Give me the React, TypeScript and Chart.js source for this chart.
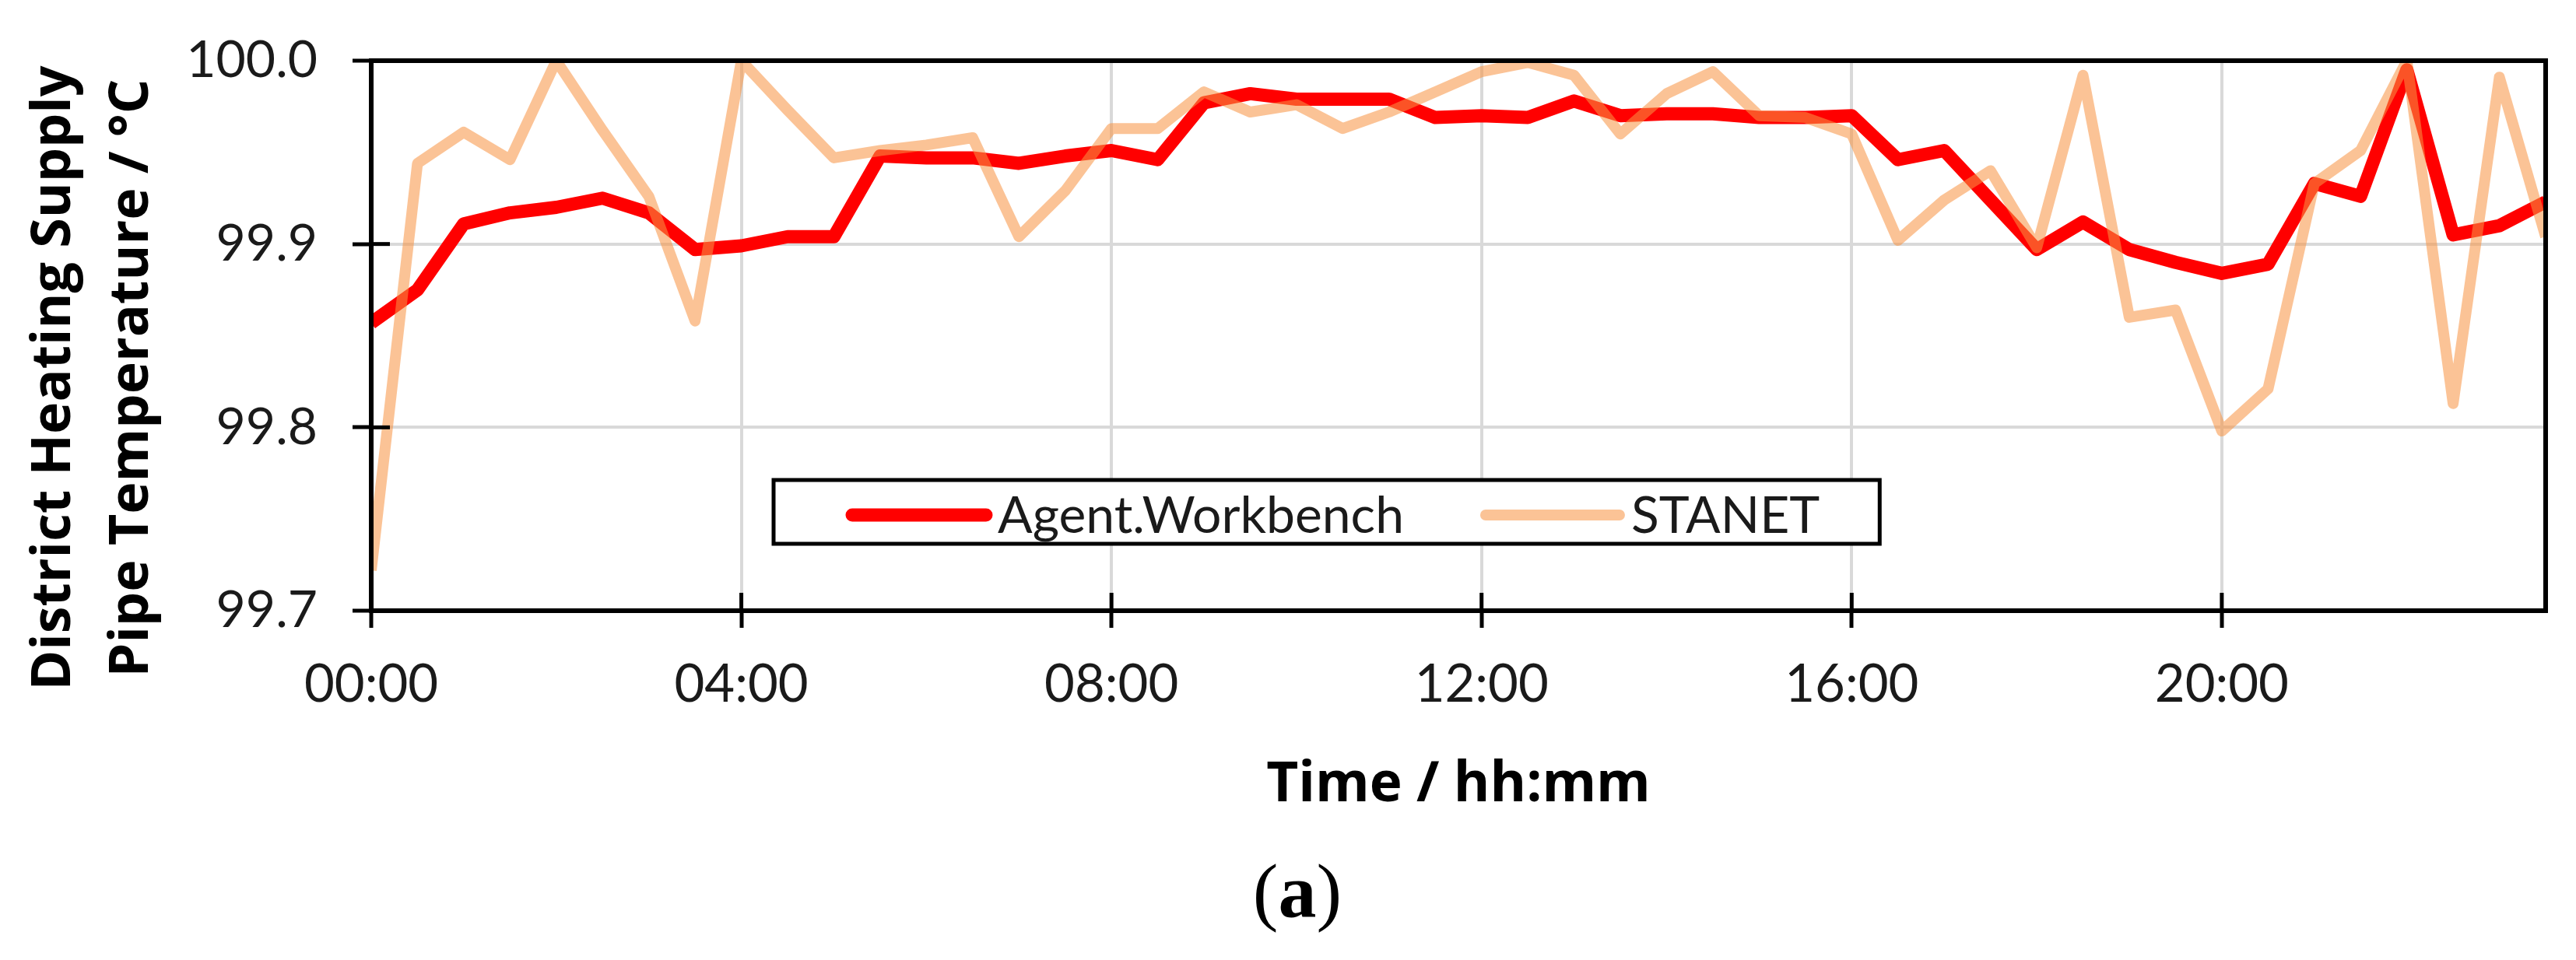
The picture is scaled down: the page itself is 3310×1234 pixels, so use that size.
import React, { useEffect, useRef } from "react";
import { Chart, registerables } from "chart.js";

Chart.register(...registerables);

// ---------- data ----------
const timeLabels = [
  "00:00", "00:30", "01:00", "01:30", "02:00", "02:30", "03:00", "03:30",
  "04:00", "04:30", "05:00", "05:30", "06:00", "06:30", "07:00", "07:30",
  "08:00", "08:30", "09:00", "09:30", "10:00", "10:30", "11:00", "11:30",
  "12:00", "12:30", "13:00", "13:30", "14:00", "14:30", "15:00", "15:30",
  "16:00", "16:30", "17:00", "17:30", "18:00", "18:30", "19:00", "19:30",
  "20:00", "20:30", "21:00", "21:30", "22:00", "22:30", "23:00", "23:30",
];

const agentWorkbench = [
  99.857, 99.875, 99.911, 99.917, 99.920, 99.925, 99.917, 99.897,
  99.899, 99.904, 99.904, 99.948, 99.947, 99.947, 99.944, 99.948,
  99.951, 99.946, 99.977, 99.982, 99.979, 99.979, 99.979, 99.969,
  99.970, 99.969, 99.978, 99.970, 99.971, 99.971, 99.969, 99.969,
  99.970, 99.946, 99.951, 99.924, 99.897, 99.912, 99.897, 99.890,
  99.884, 99.889, 99.933, 99.926, 99.995, 99.905, 99.910, 99.923,
];

const stanet = [
  99.722, 99.944, 99.961, 99.946, 100.0, 99.962, 99.926, 99.858,
  100.0, 99.973, 99.947, 99.951, 99.954, 99.958, 99.904, 99.929,
  99.963, 99.963, 99.983, 99.972, 99.976, 99.963, 99.972, 99.983,
  99.994, 99.999, 99.992, 99.960, 99.982, 99.994, 99.970, 99.969,
  99.960, 99.902, 99.924, 99.940, 99.898, 99.992, 99.860, 99.864,
  99.798, 99.821, 99.933, 99.951, 100.0, 99.813, 99.991, 99.904,
];

const seriesNames = ["Agent.Workbench", "STANET"];
const seriesColors = ["#FF0000", "rgba(247,148,68,0.56)"];
const yMin = 99.7;
const yMax = 100.0;
const yStep = 0.1;
const yAxisTitle = ["District Heating Supply", "Pipe Temperature / °C"];
const xAxisTitle = "Time / hh:mm";
const panelLabel = ["(", "a", ")"];

// ---------- drawing helpers (plugins) ----------
const extrasPlugin = {
  id: "extras",
  afterDatasetsDraw(chart: any) {
    const { ctx, chartArea: a, scales } = chart;
    ctx.save();
    // inner tick marks
    ctx.strokeStyle = "#000";
    ctx.lineWidth = 5;
    ctx.lineCap = "butt";
    scales.y.ticks.forEach((t: any) => {
      const y = scales.y.getPixelForValue(t.value);
      ctx.beginPath();
      ctx.moveTo(a.left, y);
      ctx.lineTo(a.left + 24, y);
      ctx.stroke();
    });
    scales.x.ticks.forEach((t: any, i: number) => {
      if (t.label === null || t.label === undefined || t.label === "") return;
      const x = scales.x.getPixelForTick(i);
      ctx.beginPath();
      ctx.moveTo(x, a.bottom);
      ctx.lineTo(x, a.bottom - 23);
      ctx.stroke();
    });
    // plot frame
    ctx.lineWidth = 6;
    ctx.strokeRect(a.left, a.top, a.right - a.left, a.bottom - a.top);

    // legend box
    const boxLeft = 994;
    const boxTop = 617;
    const boxBottom = 699;
    const midY = (boxTop + boxBottom) / 2 + 4;
    ctx.font = '66px "Lato"';
    let x = boxLeft + 101;
    const items: any[] = [];
    chart.data.datasets.forEach((ds: any) => {
      const sampleStart = x;
      const sampleEnd = x + 172;
      const textX = sampleEnd + 15;
      const w = ctx.measureText(ds.label).width;
      items.push({ ds, sampleStart, sampleEnd, textX });
      x = textX + w + 105;
    });
    const boxRight = x - 105 + 77;
    ctx.fillStyle = "#fff";
    ctx.fillRect(boxLeft, boxTop, boxRight - boxLeft, boxBottom - boxTop);
    ctx.lineWidth = 5;
    ctx.strokeStyle = "#000";
    ctx.strokeRect(boxLeft, boxTop, boxRight - boxLeft, boxBottom - boxTop);
    items.forEach((it) => {
      ctx.beginPath();
      ctx.strokeStyle = it.ds.borderColor;
      ctx.lineWidth = it.ds.borderWidth;
      ctx.lineCap = "round";
      ctx.moveTo(it.sampleStart, midY);
      ctx.lineTo(it.sampleEnd, midY);
      ctx.stroke();
      ctx.fillStyle = "#1a1a1a";
      ctx.textAlign = "left";
      ctx.textBaseline = "alphabetic";
      ctx.fillText(it.ds.label, it.textX, 685);
    });
    ctx.restore();
  },
  afterDraw(chart: any) {
    const { ctx } = chart;
    ctx.save();
    // y axis title (two lines, rotated)
    ctx.fillStyle = "#000";
    ctx.font = 'bold 70px "Open Sans"';
    ctx.textAlign = "center";
    ctx.textBaseline = "alphabetic";
    const baselines = [90, 190];
    yAxisTitle.forEach((line, i) => {
      ctx.save();
      ctx.translate(baselines[i], 486);
      ctx.rotate(-Math.PI / 2);
      ctx.fillText(line, 0, 0);
      ctx.restore();
    });
    // panel label "(a)" with bold a
    const fonts = ['98px "Liberation Serif"', 'bold 98px "Liberation Serif"', '98px "Liberation Serif"'];
    let total = 0;
    const widths = panelLabel.map((s, i) => {
      ctx.font = fonts[i];
      const w = ctx.measureText(s).width;
      total += w;
      return w;
    });
    let px = 1667 - total / 2;
    ctx.textAlign = "left";
    panelLabel.forEach((s, i) => {
      ctx.font = fonts[i];
      ctx.fillText(s, px, 1178);
      px += widths[i];
    });
    ctx.restore();
  },
};

export default function App() {
  const canvasRef = useRef<HTMLCanvasElement | null>(null);

  useEffect(() => {
    document.body.style.margin = "0";
    document.body.style.overflow = "hidden";
    let chart: any = null;
    let cancelled = false;

    const build = () => {
      if (cancelled || !canvasRef.current) return;
      chart = new Chart(canvasRef.current, {
        type: "line",
        data: {
          labels: timeLabels,
          datasets: [
            {
              label: seriesNames[0],
              data: agentWorkbench,
              borderColor: seriesColors[0],
              backgroundColor: seriesColors[0],
              borderWidth: 17,
              borderJoinStyle: "round",
              borderCapStyle: "butt",
              pointRadius: 0,
              fill: false,
              tension: 0,
              clip: 0,
              order: 1,
            },
            {
              label: seriesNames[1],
              data: stanet,
              borderColor: seriesColors[1],
              backgroundColor: seriesColors[1],
              borderWidth: 14,
              borderJoinStyle: "round",
              borderCapStyle: "butt",
              pointRadius: 0,
              fill: false,
              tension: 0,
              clip: 0,
              order: 0,
            },
          ],
        },
        options: {
          animation: false,
          responsive: false,
          devicePixelRatio: 1,
          events: [],
          layout: { padding: { left: 0, right: 39, top: 65, bottom: 0 } },
          plugins: {
            legend: { display: false },
            tooltip: { enabled: false },
            title: { display: false },
          },
          scales: {
            x: {
              type: "category",
              offset: false,
              grid: {
                color: "#d9d9d9",
                lineWidth: 4,
                drawTicks: true,
                tickLength: 22,
                tickColor: "#000",
                tickWidth: 5,
                offset: false,
              },
              border: { display: false },
              ticks: {
                autoSkip: false,
                maxRotation: 0,
                minRotation: 0,
                padding: 40,
                color: "#1a1a1a",
                font: { family: "Lato", size: 67, lineHeight: 1 },
                callback: function (this: any, value: any, index: number) {
                  return index % 8 === 0 ? this.getLabelForValue(value) : null;
                },
              },
              title: {
                display: true,
                text: xAxisTitle,
                color: "#000",
                font: { family: "Open Sans", weight: "bold", size: 71, lineHeight: 1 },
                padding: { top: 0, bottom: 189 },
              },
              afterFit: (scale: any) => {
                scale.height = 449;
              },
            },
            y: {
              type: "linear",
              min: yMin,
              max: yMax,
              grid: {
                color: "#d9d9d9",
                lineWidth: 4,
                drawTicks: true,
                tickLength: 24,
                tickColor: "#000",
                tickWidth: 5,
              },
              border: { display: false },
              ticks: {
                stepSize: yStep,
                padding: 45,
                color: "#1a1a1a",
                font: { family: "Lato", size: 66, lineHeight: 1 },
                callback: (v: any) => Number(v).toFixed(1),
              },
              afterFit: (scale: any) => {
                scale.width = 477;
              },
            },
          },
        },
        plugins: [extrasPlugin],
      } as any);
    };

    const fontsToLoad = [
      '66px "Lato"',
      'bold 70px "Open Sans"',
      '98px "Liberation Serif"',
      'bold 98px "Liberation Serif"',
    ];
    const fontSet: any = (document as any).fonts;
    if (fontSet && fontSet.load) {
      Promise.all(fontsToLoad.map((f) => fontSet.load(f).catch(() => null)))
        .then(build)
        .catch(build);
    } else {
      build();
    }

    return () => {
      cancelled = true;
      if (chart) chart.destroy();
    };
  }, []);

  return (
    <canvas
      ref={canvasRef}
      width={3310}
      height={1234}
      style={{ display: "block", width: "3310px", height: "1234px" }}
    />
  );
}
